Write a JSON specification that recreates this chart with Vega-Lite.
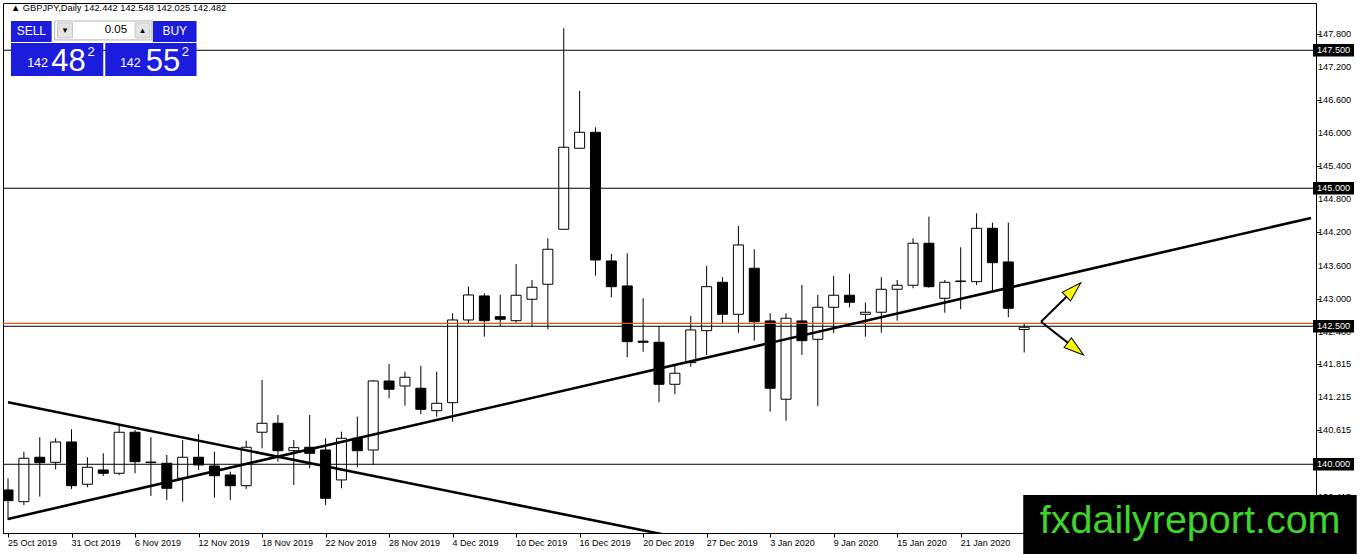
{
  "$schema": "https://vega.github.io/schema/vega-lite/v6.json",
  "width": 1313,
  "height": 530,
  "autosize": {"type": "none"},
  "padding": {"left": 3, "top": 3, "right": 46, "bottom": 21},
  "background": "white",
  "config": {
    "view": {"stroke": "black", "strokeWidth": 1},
    "font": "Liberation Sans",
    "axis": {"grid": false, "title": null}
  },
  "datasets": {
    "candles": [
      {"date": "25 Oct 2019", "o": 139.534, "h": 139.746, "l": 138.991, "c": 139.341},
      {"date": "28 Oct 2019", "o": 139.322, "h": 140.228, "l": 139.263, "c": 140.109},
      {"date": "29 Oct 2019", "o": 140.127, "h": 140.489, "l": 139.413, "c": 140.029},
      {"date": "30 Oct 2019", "o": 140.036, "h": 140.471, "l": 139.909, "c": 140.404},
      {"date": "31 Oct 2019", "o": 140.404, "h": 140.634, "l": 139.553, "c": 139.612},
      {"date": "1 Nov 2019", "o": 139.638, "h": 140.127, "l": 139.583, "c": 139.946},
      {"date": "4 Nov 2019", "o": 139.897, "h": 140.199, "l": 139.788, "c": 139.837},
      {"date": "5 Nov 2019", "o": 139.837, "h": 140.712, "l": 139.801, "c": 140.58},
      {"date": "6 Nov 2019", "o": 140.58, "h": 140.621, "l": 139.837, "c": 140.047},
      {"date": "7 Nov 2019", "o": 140.04, "h": 140.489, "l": 139.426, "c": 140.03},
      {"date": "8 Nov 2019", "o": 140.018, "h": 140.168, "l": 139.353, "c": 139.565},
      {"date": "11 Nov 2019", "o": 139.746, "h": 140.44, "l": 139.322, "c": 140.127},
      {"date": "12 Nov 2019", "o": 140.127, "h": 140.549, "l": 139.897, "c": 139.987},
      {"date": "13 Nov 2019", "o": 139.969, "h": 140.228, "l": 139.395, "c": 139.793},
      {"date": "14 Nov 2019", "o": 139.806, "h": 139.866, "l": 139.353, "c": 139.612},
      {"date": "15 Nov 2019", "o": 139.612, "h": 140.428, "l": 139.553, "c": 140.308},
      {"date": "18 Nov 2019", "o": 140.58, "h": 141.527, "l": 140.29, "c": 140.743},
      {"date": "19 Nov 2019", "o": 140.743, "h": 140.893, "l": 140.047, "c": 140.246},
      {"date": "20 Nov 2019", "o": 140.246, "h": 140.44, "l": 139.625, "c": 140.301},
      {"date": "21 Nov 2019", "o": 140.308, "h": 140.893, "l": 139.928, "c": 140.199},
      {"date": "22 Nov 2019", "o": 140.259, "h": 140.471, "l": 139.263, "c": 139.384},
      {"date": "25 Nov 2019", "o": 139.716, "h": 140.591, "l": 139.565, "c": 140.471},
      {"date": "26 Nov 2019", "o": 140.471, "h": 140.862, "l": 139.946, "c": 140.246},
      {"date": "27 Nov 2019", "o": 140.259, "h": 141.527, "l": 139.987, "c": 141.509},
      {"date": "28 Nov 2019", "o": 141.509, "h": 141.817, "l": 141.196, "c": 141.359},
      {"date": "29 Nov 2019", "o": 141.418, "h": 141.678, "l": 141.062, "c": 141.576},
      {"date": "2 Dec 2019", "o": 141.377, "h": 141.781, "l": 140.906, "c": 140.996},
      {"date": "3 Dec 2019", "o": 140.971, "h": 141.678, "l": 140.862, "c": 141.105},
      {"date": "4 Dec 2019", "o": 141.116, "h": 142.736, "l": 140.772, "c": 142.614},
      {"date": "5 Dec 2019", "o": 142.614, "h": 143.217, "l": 142.542, "c": 143.067},
      {"date": "6 Dec 2019", "o": 143.049, "h": 143.098, "l": 142.312, "c": 142.601},
      {"date": "9 Dec 2019", "o": 142.674, "h": 143.067, "l": 142.505, "c": 142.627},
      {"date": "10 Dec 2019", "o": 142.601, "h": 143.629, "l": 142.565, "c": 143.062},
      {"date": "11 Dec 2019", "o": 142.989, "h": 143.339, "l": 142.493, "c": 143.207},
      {"date": "12 Dec 2019", "o": 143.261, "h": 144.094, "l": 142.446, "c": 143.895},
      {"date": "13 Dec 2019", "o": 144.257, "h": 147.899, "l": 144.25, "c": 145.743},
      {"date": "16 Dec 2019", "o": 145.725, "h": 146.763, "l": 145.72, "c": 146.014},
      {"date": "17 Dec 2019", "o": 146.014, "h": 146.105, "l": 143.417, "c": 143.701},
      {"date": "18 Dec 2019", "o": 143.683, "h": 143.81, "l": 143.025, "c": 143.217},
      {"date": "19 Dec 2019", "o": 143.23, "h": 143.822, "l": 141.938, "c": 142.221},
      {"date": "20 Dec 2019", "o": 142.23, "h": 143.007, "l": 142.04, "c": 142.21},
      {"date": "23 Dec 2019", "o": 142.21, "h": 142.505, "l": 141.123, "c": 141.449},
      {"date": "24 Dec 2019", "o": 141.449, "h": 141.781, "l": 141.268, "c": 141.649},
      {"date": "26 Dec 2019", "o": 141.841, "h": 142.687, "l": 141.768, "c": 142.433},
      {"date": "27 Dec 2019", "o": 142.42, "h": 143.592, "l": 141.98, "c": 143.217},
      {"date": "30 Dec 2019", "o": 143.297, "h": 143.388, "l": 142.542, "c": 142.717},
      {"date": "31 Dec 2019", "o": 142.717, "h": 144.317, "l": 142.384, "c": 143.973},
      {"date": "2 Jan 2020", "o": 143.551, "h": 143.895, "l": 142.239, "c": 142.583},
      {"date": "3 Jan 2020", "o": 142.596, "h": 142.736, "l": 140.953, "c": 141.377},
      {"date": "6 Jan 2020", "o": 141.178, "h": 142.736, "l": 140.79, "c": 142.645},
      {"date": "7 Jan 2020", "o": 142.596, "h": 143.248, "l": 141.98, "c": 142.239},
      {"date": "8 Jan 2020", "o": 142.264, "h": 143.067, "l": 141.056, "c": 142.844},
      {"date": "9 Jan 2020", "o": 142.844, "h": 143.411, "l": 142.373, "c": 143.062},
      {"date": "10 Jan 2020", "o": 143.062, "h": 143.447, "l": 142.844, "c": 142.935},
      {"date": "13 Jan 2020", "o": 142.717, "h": 142.928, "l": 142.312, "c": 142.754},
      {"date": "14 Jan 2020", "o": 142.754, "h": 143.388, "l": 142.384, "c": 143.17},
      {"date": "15 Jan 2020", "o": 143.17, "h": 143.339, "l": 142.601, "c": 143.243},
      {"date": "16 Jan 2020", "o": 143.243, "h": 144.094, "l": 143.188, "c": 144.004},
      {"date": "17 Jan 2020", "o": 144.004, "h": 144.486, "l": 143.2, "c": 143.217},
      {"date": "20 Jan 2020", "o": 143.007, "h": 143.339, "l": 142.746, "c": 143.297},
      {"date": "21 Jan 2020", "o": 143.32, "h": 143.931, "l": 142.808, "c": 143.31},
      {"date": "22 Jan 2020", "o": 143.308, "h": 144.547, "l": 143.248, "c": 144.275},
      {"date": "23 Jan 2020", "o": 144.275, "h": 144.377, "l": 143.145, "c": 143.652},
      {"date": "24 Jan 2020", "o": 143.665, "h": 144.377, "l": 142.663, "c": 142.826},
      {"date": "27 Jan 2020", "o": 142.442, "h": 142.548, "l": 142.025, "c": 142.482}
    ],
    "yticks": [
      {"v": 147.8}, {"v": 147.2}, {"v": 146.6}, {"v": 146.0}, {"v": 145.4},
      {"v": 144.8}, {"v": 144.2}, {"v": 143.6}, {"v": 143.0}, {"v": 142.4},
      {"v": 141.815}, {"v": 141.215}, {"v": 140.615}, {"v": 140.015}, {"v": 139.415}
    ],
    "levels": [
      {"price": 147.5},
      {"price": 145.0},
      {"price": 142.5},
      {"price": 140.0}
    ],
    "ask": [{"price": 142.552}],
    "trend": [
      {"id": "up", "n": 1, "price": 139.009},
      {"id": "up", "n": 83.0625, "price": 144.462},
      {"id": "down", "n": 1, "price": 141.123},
      {"id": "down", "n": 44.5, "price": 138.6}
    ],
    "arrows": [
      {"id": "up", "n": 66.06, "price": 142.583},
      {"id": "up", "n": 68.11, "price": 143.163},
      {"id": "down", "n": 66.06, "price": 142.583},
      {"id": "down", "n": 68.24, "price": 142.091}
    ],
    "blueBoxes": [
      {"n": 1.1875, "n2": 3.75, "price": 148.031, "price2": 147.65},
      {"n": 10.125, "n2": 12.875, "price": 148.031, "price2": 147.65},
      {"n": 1.1875, "n2": 7.0, "price": 147.632, "price2": 147.034},
      {"n": 7.125, "n2": 12.875, "price": 147.632, "price2": 147.034}
    ],
    "spinButtons": [
      {"n": 4.125, "n2": 5.0625, "price": 147.995, "price2": 147.723},
      {"n": 9.0, "n2": 9.9375, "price": 147.995, "price2": 147.723}
    ]
  },
  "layer": [
    {
      "data": {"name": "candles"},
      "transform": [{"window": [{"op": "row_number", "as": "n"}]}],
      "layer": [
        {
          "mark": {"type": "rule", "color": "black", "strokeWidth": 1, "clip": true},
          "encoding": {
            "x": {
              "field": "n", "type": "quantitative",
              "scale": {"domain": [1, 83.0625], "nice": false, "zero": false},
              "axis": {
                "values": [1, 5, 9, 13, 17, 21, 25, 29, 33, 37, 41, 45, 49, 53, 57, 61],
                "labels": false, "tickSize": 4, "tickColor": "black", "domainColor": "black"
              }
            },
            "y": {
              "field": "l", "type": "quantitative",
              "scale": {"domain": [138.755, 148.356], "nice": false, "zero": false},
              "axis": {
                "orient": "right",
                "values": [147.8, 147.2, 146.6, 146.0, 145.4, 144.8, 144.2, 143.6, 143.0, 142.4, 141.815, 141.215, 140.615, 140.015, 139.415],
                "labels": false, "tickSize": 4, "tickColor": "black", "domainColor": "black"
              }
            },
            "y2": {"field": "h"}
          }
        },
        {
          "mark": {"type": "bar", "width": 10, "stroke": "black", "strokeWidth": 1, "clip": true},
          "encoding": {
            "x": {"field": "n", "type": "quantitative", "scale": {"domain": [1, 83.0625], "nice": false, "zero": false}},
            "y": {"field": "o", "type": "quantitative", "scale": {"domain": [138.755, 148.356], "nice": false, "zero": false}},
            "y2": {"field": "c"},
            "fill": {"condition": {"test": "datum.c >= datum.o", "value": "white"}, "value": "black"}
          }
        },
        {
          "transform": [{"filter": "(datum.n - 1) % 4 == 0"}],
          "mark": {"type": "text", "align": "left", "baseline": "middle", "dx": 0, "fontSize": 9, "font": "Liberation Sans", "color": "black"},
          "encoding": {
            "x": {"field": "n", "type": "quantitative", "scale": {"domain": [1, 83.0625], "nice": false, "zero": false}},
            "y": {"datum": 138.58, "type": "quantitative", "scale": {"domain": [138.755, 148.356], "nice": false, "zero": false}},
            "text": {"field": "date"}
          }
        }
      ]
    },
    {
      "data": {"name": "levels"},
      "mark": {"type": "rule", "color": "black", "strokeWidth": 1},
      "encoding": {
        "y": {"field": "price", "type": "quantitative", "scale": {"domain": [138.755, 148.356], "nice": false, "zero": false}}
      }
    },
    {
      "data": {"name": "ask"},
      "mark": {"type": "rule", "color": "#e4561c", "strokeWidth": 1.2},
      "encoding": {
        "y": {"field": "price", "type": "quantitative", "scale": {"domain": [138.755, 148.356], "nice": false, "zero": false}}
      }
    },
    {
      "data": {"name": "trend"},
      "mark": {"type": "line", "color": "black", "strokeWidth": 2.6, "clip": true},
      "encoding": {
        "x": {"field": "n", "type": "quantitative", "scale": {"domain": [1, 83.0625], "nice": false, "zero": false}},
        "y": {"field": "price", "type": "quantitative", "scale": {"domain": [138.755, 148.356], "nice": false, "zero": false}},
        "detail": {"field": "id"}
      }
    },
    {
      "data": {"name": "arrows"},
      "mark": {"type": "line", "color": "black", "strokeWidth": 2},
      "encoding": {
        "x": {"field": "n", "type": "quantitative", "scale": {"domain": [1, 83.0625], "nice": false, "zero": false}},
        "y": {"field": "price", "type": "quantitative", "scale": {"domain": [138.755, 148.356], "nice": false, "zero": false}},
        "detail": {"field": "id"}
      }
    },
    {
      "data": {"values": [{"n": 68.11, "price": 143.163}]},
      "mark": {"type": "point", "shape": "M0,-1L0.6,1L-0.6,1Z", "size": 400, "angle": 46, "filled": true, "fill": "#ffff00", "stroke": "black", "strokeWidth": 1, "opacity": 1},
      "encoding": {
        "x": {"field": "n", "type": "quantitative", "scale": {"domain": [1, 83.0625], "nice": false, "zero": false}},
        "y": {"field": "price", "type": "quantitative", "scale": {"domain": [138.755, 148.356], "nice": false, "zero": false}}
      }
    },
    {
      "data": {"values": [{"n": 68.24, "price": 142.091}]},
      "mark": {"type": "point", "shape": "M0,-1L0.6,1L-0.6,1Z", "size": 400, "angle": 128, "filled": true, "fill": "#ffff00", "stroke": "black", "strokeWidth": 1, "opacity": 1},
      "encoding": {
        "x": {"field": "n", "type": "quantitative", "scale": {"domain": [1, 83.0625], "nice": false, "zero": false}},
        "y": {"field": "price", "type": "quantitative", "scale": {"domain": [138.755, 148.356], "nice": false, "zero": false}}
      }
    },
    {
      "data": {"name": "yticks"},
      "mark": {"type": "text", "align": "left", "baseline": "middle", "dx": 7, "fontSize": 9.2, "font": "Liberation Sans", "color": "black"},
      "encoding": {
        "x": {"datum": 83.0625, "type": "quantitative", "scale": {"domain": [1, 83.0625], "nice": false, "zero": false}},
        "y": {"field": "v", "type": "quantitative", "scale": {"domain": [138.755, 148.356], "nice": false, "zero": false}},
        "text": {"field": "v", "format": ".3f"}
      }
    },
    {
      "data": {"name": "levels"},
      "mark": {"type": "point", "shape": "M0.2,-0.62L4.3,-0.62L4.3,0.62L0.2,0.62Z", "size": 400, "filled": true, "fill": "black", "strokeWidth": 0, "opacity": 1},
      "encoding": {
        "x": {"datum": 83.0625, "type": "quantitative", "scale": {"domain": [1, 83.0625], "nice": false, "zero": false}},
        "y": {"field": "price", "type": "quantitative", "scale": {"domain": [138.755, 148.356], "nice": false, "zero": false}}
      }
    },
    {
      "data": {"name": "levels"},
      "mark": {"type": "text", "align": "left", "baseline": "middle", "dx": 6, "fontSize": 9.2, "font": "Liberation Sans", "color": "white"},
      "encoding": {
        "x": {"datum": 83.0625, "type": "quantitative", "scale": {"domain": [1, 83.0625], "nice": false, "zero": false}},
        "y": {"field": "price", "type": "quantitative", "scale": {"domain": [138.755, 148.356], "nice": false, "zero": false}},
        "text": {"field": "price", "format": ".3f"}
      }
    },
    {
      "data": {"values": [{"n": 1.1875, "price": 148.266, "label": "▲ GBPJPY,Daily  142.442 142.548 142.025 142.482"}]},
      "mark": {"type": "text", "align": "left", "baseline": "middle", "fontSize": 9.3, "font": "Liberation Sans", "color": "black"},
      "encoding": {
        "x": {"field": "n", "type": "quantitative", "scale": {"domain": [1, 83.0625], "nice": false, "zero": false}},
        "y": {"field": "price", "type": "quantitative", "scale": {"domain": [138.755, 148.356], "nice": false, "zero": false}},
        "text": {"field": "label"}
      }
    },
    {
      "data": {"name": "blueBoxes"},
      "mark": {"type": "rect", "color": "#1c1cdc"},
      "encoding": {
        "x": {"field": "n", "type": "quantitative", "scale": {"domain": [1, 83.0625], "nice": false, "zero": false}},
        "x2": {"field": "n2"},
        "y": {"field": "price", "type": "quantitative", "scale": {"domain": [138.755, 148.356], "nice": false, "zero": false}},
        "y2": {"field": "price2"}
      }
    },
    {
      "data": {"values": [{"n": 3.9375, "n2": 10.0625, "price": 148.031, "price2": 147.687}]},
      "mark": {"type": "rect", "fill": "white", "stroke": "#b4b4b4", "strokeWidth": 1},
      "encoding": {
        "x": {"field": "n", "type": "quantitative", "scale": {"domain": [1, 83.0625], "nice": false, "zero": false}},
        "x2": {"field": "n2"},
        "y": {"field": "price", "type": "quantitative", "scale": {"domain": [138.755, 148.356], "nice": false, "zero": false}},
        "y2": {"field": "price2"}
      }
    },
    {
      "data": {"name": "spinButtons"},
      "mark": {"type": "rect", "fill": "#e4e4e4", "stroke": "#c8c8c8", "strokeWidth": 1},
      "encoding": {
        "x": {"field": "n", "type": "quantitative", "scale": {"domain": [1, 83.0625], "nice": false, "zero": false}},
        "x2": {"field": "n2"},
        "y": {"field": "price", "type": "quantitative", "scale": {"domain": [138.755, 148.356], "nice": false, "zero": false}},
        "y2": {"field": "price2"}
      }
    },
    {
      "data": {"values": [
        {"n": 4.594, "price": 147.86, "label": "▾"},
        {"n": 9.469, "price": 147.86, "label": "▴"}
      ]},
      "mark": {"type": "text", "align": "center", "baseline": "middle", "fontSize": 9, "font": "DejaVu Sans", "color": "black"},
      "encoding": {
        "x": {"field": "n", "type": "quantitative", "scale": {"domain": [1, 83.0625], "nice": false, "zero": false}},
        "y": {"field": "price", "type": "quantitative", "scale": {"domain": [138.755, 148.356], "nice": false, "zero": false}},
        "text": {"field": "label"}
      }
    },
    {
      "data": {"values": [{"n": 8.5, "price": 147.868, "label": "0.05"}]},
      "mark": {"type": "text", "align": "right", "baseline": "middle", "fontSize": 11.5, "font": "Liberation Sans", "color": "black"},
      "encoding": {
        "x": {"field": "n", "type": "quantitative", "scale": {"domain": [1, 83.0625], "nice": false, "zero": false}},
        "y": {"field": "price", "type": "quantitative", "scale": {"domain": [138.755, 148.356], "nice": false, "zero": false}},
        "text": {"field": "label"}
      }
    },
    {
      "data": {"values": [
        {"n": 2.469, "price": 147.85, "label": "SELL"},
        {"n": 11.5, "price": 147.85, "label": "BUY"}
      ]},
      "mark": {"type": "text", "align": "center", "baseline": "middle", "fontSize": 12, "font": "Liberation Sans", "color": "white"},
      "encoding": {
        "x": {"field": "n", "type": "quantitative", "scale": {"domain": [1, 83.0625], "nice": false, "zero": false}},
        "y": {"field": "price", "type": "quantitative", "scale": {"domain": [138.755, 148.356], "nice": false, "zero": false}},
        "text": {"field": "label"}
      }
    },
    {
      "data": {"values": [
        {"n": 3.52, "price": 147.19, "label": "142"},
        {"n": 9.36, "price": 147.19, "label": "142"}
      ]},
      "mark": {"type": "text", "align": "right", "baseline": "alphabetic", "fontSize": 12.5, "font": "Liberation Sans", "color": "white"},
      "encoding": {
        "x": {"field": "n", "type": "quantitative", "scale": {"domain": [1, 83.0625], "nice": false, "zero": false}},
        "y": {"field": "price", "type": "quantitative", "scale": {"domain": [138.755, 148.356], "nice": false, "zero": false}},
        "text": {"field": "label"}
      }
    },
    {
      "data": {"values": [
        {"n": 3.73, "price": 147.12, "label": "48"},
        {"n": 9.67, "price": 147.12, "label": "55"}
      ]},
      "mark": {"type": "text", "align": "left", "baseline": "alphabetic", "fontSize": 31, "font": "Liberation Sans", "color": "white"},
      "encoding": {
        "x": {"field": "n", "type": "quantitative", "scale": {"domain": [1, 83.0625], "nice": false, "zero": false}},
        "y": {"field": "price", "type": "quantitative", "scale": {"domain": [138.755, 148.356], "nice": false, "zero": false}},
        "text": {"field": "label"}
      }
    },
    {
      "data": {"values": [
        {"n": 6.0, "price": 147.397, "label": "2"},
        {"n": 11.94, "price": 147.397, "label": "2"}
      ]},
      "mark": {"type": "text", "align": "left", "baseline": "alphabetic", "fontSize": 13, "font": "Liberation Sans", "color": "white"},
      "encoding": {
        "x": {"field": "n", "type": "quantitative", "scale": {"domain": [1, 83.0625], "nice": false, "zero": false}},
        "y": {"field": "price", "type": "quantitative", "scale": {"domain": [138.755, 148.356], "nice": false, "zero": false}},
        "text": {"field": "label"}
      }
    },
    {
      "data": {"values": [{"n": 64.94, "n2": 85.94, "price": 139.444, "price2": 138.375}]},
      "mark": {"type": "rect", "color": "black"},
      "encoding": {
        "x": {"field": "n", "type": "quantitative", "scale": {"domain": [1, 83.0625], "nice": false, "zero": false}},
        "x2": {"field": "n2"},
        "y": {"field": "price", "type": "quantitative", "scale": {"domain": [138.755, 148.356], "nice": false, "zero": false}},
        "y2": {"field": "price2"}
      }
    },
    {
      "data": {"values": [{"n": 65.98, "price": 138.75, "label": "fxdailyreport.com"}]},
      "mark": {"type": "text", "align": "left", "baseline": "alphabetic", "fontSize": 39.5, "font": "Liberation Sans", "color": "#3ed62a"},
      "encoding": {
        "x": {"field": "n", "type": "quantitative", "scale": {"domain": [1, 83.0625], "nice": false, "zero": false}},
        "y": {"field": "price", "type": "quantitative", "scale": {"domain": [138.755, 148.356], "nice": false, "zero": false}},
        "text": {"field": "label"}
      }
    }
  ]
}
